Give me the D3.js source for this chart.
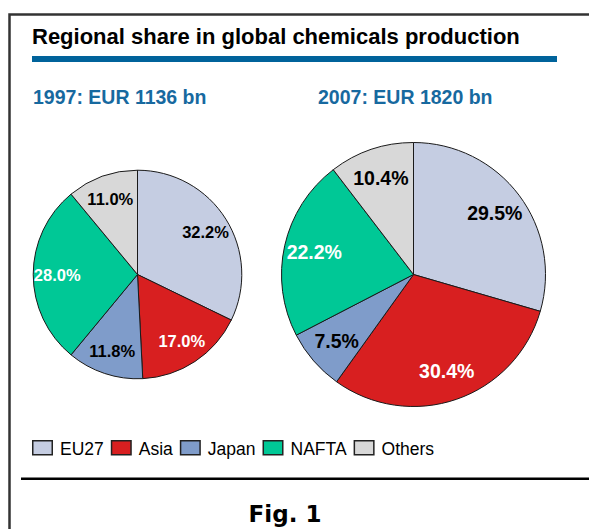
<!DOCTYPE html>
<html>
<head>
<meta charset="utf-8">
<script src="https://cdn.jsdelivr.net/npm/d3@7"></script>
<style>
  body { margin: 0; background: #fff; }
  svg { display: block; font-family: "Liberation Sans", Arial, sans-serif; }
</style>
</head>
<body>
<svg id="chart" width="589" height="529"></svg>
<script>
'use strict';

// regions, in clockwise order from 12 o'clock
const regions = ['EU27', 'Asia', 'Japan', 'NAFTA', 'Others'];
const regionColors = ['#c5cde2', '#d81f20', '#7f9cca', '#00c896', '#d8d8d8'];
const labelColors = ['#000', '#fff', '#000', '#fff', '#000'];

// the two years and their totals (EUR bn)
const years = ['1997', '2007'];
const totals = [1136, 1820];

// shares in percent, per year
const shares1997 = [32.2, 17.0, 11.8, 28.0, 11.0];
const shares2007 = [29.5, 30.4, 7.5, 22.2, 10.4];

const svg = d3.select('#chart');
const width = +svg.attr('width');
const height = +svg.attr('height');

// frame
svg.append('path')
  .attr('d', `M9.5,${height} V14.5 H${width}`)
  .attr('fill', 'none')
  .attr('stroke', '#333')
  .attr('stroke-width', 2.5);

// title + blue rule
svg.append('text')
  .attr('x', 32).attr('y', 43.5)
  .style('font-size', '22px').style('font-weight', 'bold')
  .text('Regional share in global chemicals production');
svg.append('rect')
  .attr('x', 32).attr('y', 56)
  .attr('width', 525).attr('height', 6)
  .attr('fill', '#00639b');

// pies
const rScale = d3.scaleSqrt().domain([0, d3.max(totals)]).range([0, 132]);
const xCenter = d3.scaleOrdinal().domain(years).range([137.5, 413.5]);
const subX = d3.scaleOrdinal().domain(years).range([33, 318]);
const cy = 274.5;
const labelSize = d3.scaleLinear().domain([1136, 1820]).range([16.5, 19.5]);

const pie = d3.pie().sort(null).value(d => d);

[shares1997, shares2007].forEach((shares, i) => {
  const year = years[i];
  const r = rScale(totals[i]);

  svg.append('text')
    .attr('x', subX(year)).attr('y', 103.5)
    .style('font-size', '19.5px').style('font-weight', 'bold')
    .attr('fill', '#17699f')
    .text(`${year}: EUR ${totals[i]} bn`);

  const g = svg.append('g')
    .attr('transform', `translate(${xCenter(year)},${cy})`);

  const arc = d3.arc().innerRadius(0).outerRadius(r);
  const labelArc = d3.arc().innerRadius(r * 0.77).outerRadius(r * 0.77);
  const arcs = pie(shares);

  g.selectAll('path')
    .data(arcs)
    .join('path')
    .attr('d', arc)
    .attr('fill', (d, j) => regionColors[j])
    .attr('stroke', '#1a1a1a')
    .attr('stroke-width', 1);

  g.selectAll('text')
    .data(arcs)
    .join('text')
    .attr('transform', d => `translate(${labelArc.centroid(d)})`)
    .attr('text-anchor', 'middle')
    .attr('dominant-baseline', 'central')
    .style('font-size', `${labelSize(totals[i])}px`)
    .style('font-weight', 'bold')
    .attr('fill', (d, j) => labelColors[j])
    .text(d => `${d.data.toFixed(1)}%`);
});

// legend
const legend = svg.append('g').attr('transform', 'translate(32,440)');
let lx = 0;
regions.forEach((name, i) => {
  const item = legend.append('g').attr('transform', `translate(${lx},0)`);
  item.append('rect')
    .attr('x', 0.75).attr('y', 0.75)
    .attr('width', 19.5).attr('height', 14)
    .attr('fill', regionColors[i])
    .attr('stroke', '#222')
    .attr('stroke-width', 1.5);
  const t = item.append('text')
    .attr('x', 28).attr('y', 14.5)
    .style('font-size', '17.5px')
    .text(name);
  lx += 28 + t.node().getComputedTextLength() + 7;
});

// bottom rule + caption
svg.append('line')
  .attr('x1', 21).attr('x2', width)
  .attr('y1', 478.7).attr('y2', 478.7)
  .attr('stroke', '#000')
  .attr('stroke-width', 2.5);
svg.append('text')
  .attr('x', 285).attr('y', 522)
  .attr('text-anchor', 'middle')
  .style('font-family', '"DejaVu Sans", Verdana, sans-serif')
  .style('font-size', '23px').style('font-weight', 'bold')
  .text('Fig. 1');
</script>
</body>
</html>
